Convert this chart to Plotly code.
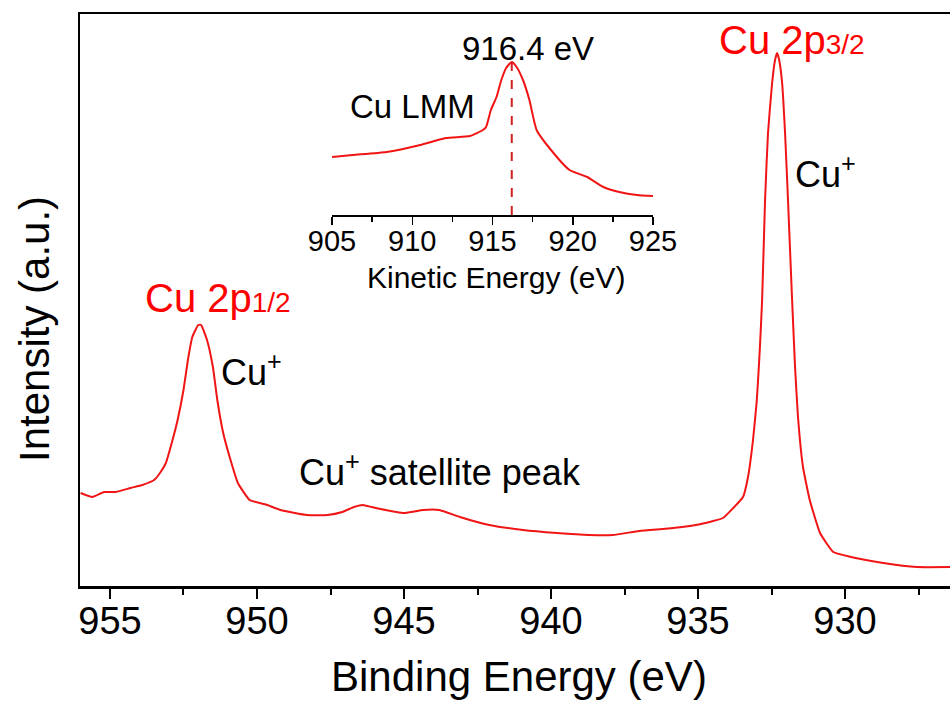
import plotly.graph_objects as go

# ---- Main XPS spectrum (Cu 2p) ----
binding_energy = [956.0, 955.6, 955.2, 954.8, 954.3, 953.9, 953.5, 953.3, 953.1, 952.9,
                  952.7, 952.5, 952.35, 952.2, 952.0, 951.9, 951.7, 951.5, 951.35, 951.15,
                  950.9, 950.65, 950.25, 949.65, 949.2, 948.3, 947.6, 947.1, 946.7, 946.4,
                  946.1, 945.8, 945.0, 944.35, 943.8, 943.1, 942.1, 940.95, 939.8, 938.7,
                  937.9, 937.0, 935.85, 934.9, 934.15, 933.8, 933.47, 933.3, 933.13, 933.0,
                  932.9, 932.82, 932.72, 932.62, 932.48, 932.38, 932.31, 932.24, 932.14, 932.04,
                  931.94, 931.8, 931.7, 931.6, 931.43, 931.2, 930.85, 930.4, 929.8, 928.7,
                  927.55, 926.4]
intensity = [93, 89, 94, 94, 98, 101, 106, 113, 123, 143,
             166, 196, 226, 249, 261, 261, 246, 219, 186, 153,
             126, 103, 86, 81, 76, 71, 71, 74, 79, 81,
             79, 77, 73, 76, 76, 69, 61, 56, 53, 51,
             51, 55, 58, 62, 68, 78, 89, 109, 146, 186,
             236, 286, 386, 453, 503, 526, 533, 526, 503, 453,
             386, 286, 219, 169, 119, 86, 53, 34, 29, 23,
             19, 19]

# ---- Inset: Cu LMM Auger ----
kinetic_energy = [905.0, 906.3, 908.4, 910.5, 912.1, 913.6, 914.4, 914.6, 914.9, 915.25,
                  915.55, 915.85, 916.2, 916.5, 916.9, 917.3, 917.75, 918.8, 919.8, 920.9,
                  921.9, 922.9, 924.0, 925.0]
lmm_intensity = [58, 60, 63, 70, 77, 79, 85, 88, 105, 118,
                 135, 147, 153, 148, 135, 115, 85, 62, 45, 38,
                 28, 23, 20, 19]
lmm_peak_ke = 916.2
lmm_peak_int = 153

main_ticks = [955, 950, 945, 940, 935, 930]
main_minor = [952.5, 947.5, 942.5, 937.5, 932.5, 927.5]
inset_ticks = [905, 910, 915, 920, 925]
inset_minor = [907.5, 912.5, 917.5, 922.5]

FONT = "Liberation Sans, Arial, sans-serif"
RED = "#f01414"

W, H = 950, 706
L, R, T, B = 80, 950, 14, 586  # plot area in pixels


def P(px, py):
    return (px - L) / (R - L), (B - py) / (B - T)


fig = go.Figure()
fig.add_trace(go.Scatter(x=binding_energy, y=intensity, mode="lines",
                         line=dict(color=RED, width=2, shape="spline", smoothing=0.4),
                         xaxis="x", yaxis="y", showlegend=False))
fig.add_trace(go.Scatter(x=kinetic_energy, y=lmm_intensity, mode="lines",
                         line=dict(color=RED, width=2, shape="spline", smoothing=0.5),
                         xaxis="x2", yaxis="y2", showlegend=False))
fig.add_trace(go.Scatter(x=[lmm_peak_ke, lmm_peak_ke], y=[0, lmm_peak_int], mode="lines",
                         line=dict(color="#d02020", width=2, dash="dash"),
                         xaxis="x2", yaxis="y2", showlegend=False))

ix0, _ = P(332, 0)
ix1, _ = P(653, 0)
_, iy0 = P(0, 215)
_, iy1 = P(0, 55)

fig.update_layout(
    width=W, height=H, autosize=False,
    margin=dict(l=L, r=W - R, t=T, b=H - B, pad=0, autoexpand=False),
    paper_bgcolor="white", plot_bgcolor="white",
    font=dict(family=FONT, color="black"),
    showlegend=False,
    xaxis=dict(range=[956.02, 926.43], tickvals=main_ticks, showline=True, linecolor="black",
               linewidth=2.5, mirror=True, ticks="outside", ticklen=10, tickwidth=2,
               tickcolor="black", tickfont=dict(size=38, family=FONT), ticklabelstandoff=-10,
               minor=dict(tickvals=main_minor, ticks="outside",
                          ticklen=6, tickwidth=2, tickcolor="black"),
               showgrid=False, zeroline=False, domain=[0, 1], automargin=False),
    yaxis=dict(range=[0, 572], showline=True, linecolor="black", linewidth=2.5, mirror=False,
               showticklabels=False, ticks="", showgrid=False, zeroline=False, domain=[0, 1],
               automargin=False),
    xaxis2=dict(range=[905, 925], tickvals=inset_ticks, anchor="y2", domain=[ix0, ix1],
                showline=True, linecolor="black", linewidth=2, ticks="outside", ticklen=8,
                tickwidth=1.5, tickcolor="black", tickfont=dict(size=29, family=FONT),
                ticklabelstandoff=-9,
                minor=dict(tickvals=inset_minor, ticks="outside", ticklen=5,
                           tickwidth=1.5, tickcolor="black"),
                showgrid=False, zeroline=False, automargin=False),
    yaxis2=dict(range=[0, 160], anchor="x2", domain=[iy0, iy1], visible=False,
                showgrid=False, zeroline=False),
)


def ann(text, px, py, size, color="black", angle=0):
    x, y = P(px, py)
    fig.add_annotation(text=text, x=x, y=y, xref="paper", yref="paper", showarrow=False,
                       xanchor="center", yanchor="middle", textangle=angle,
                       font=dict(size=size, color=color, family=FONT))


ann("Intensity (a.u.)", 35, 329, 42, angle=-90)
ann("Binding Energy (eV)", 519, 676, 42)
ann("Cu 2p<span style='font-size:28px'>1/2</span>", 218, 298, 40, color="#ff0000")
ann("Cu 2p<span style='font-size:28px'>3/2</span>", 792, 40, 40, color="#ff0000")
ann("Cu<sup>+</sup>", 251, 370, 36)
ann("Cu<sup>+</sup>", 825, 172, 36)
ann("Cu<sup>+</sup> satellite peak", 440, 470, 36)
ann("Cu LMM", 412, 106, 33)
ann("916.4 eV", 528, 48, 33)
ann("Kinetic Energy (eV)", 496, 277, 30)

fig.write_html("out.html", config={"staticPlot": True, "responsive": False},
               post_script="document.body.style.margin='0';"
                           "document.documentElement.style.overflow='hidden';"
                           "document.body.style.overflow='hidden';")
